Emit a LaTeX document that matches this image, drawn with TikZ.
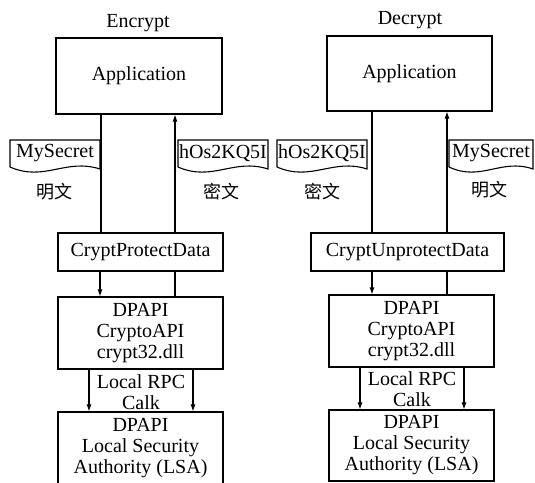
\documentclass[tikz,border=0pt]{standalone}
\usepackage{fontspec}
\setmainfont{Liberation Serif}
\newfontfamily\cjk{Noto Sans CJK SC}
\usetikzlibrary{arrows.meta}
\tikzset{
  x=1pt,y=-1pt,
  every path/.style={line width=1.1pt},
  box/.style={draw,inner sep=0pt,align=center,font=\fontsize{20}{21}\selectfont},
  txt/.style={inner sep=0pt,align=center,font=\fontsize{20}{20.5}\selectfont},
  cjklbl/.style={inner sep=0pt,font=\cjk\fontsize{18}{18}\selectfont},
  arr/.style={-{Latex[length=7pt,width=5pt]}},
}
\newcommand\mydoc[4]{%
  \draw (#2,140) -- (#3,140) -- (#3,169)
    .. controls ({#2+0.62*(#3-#2)},158) and ({#2+0.38*(#3-#2)},182) .. (#2,167) -- cycle;
  \node[txt] (#1) at ({(#2+#3)/2},153) {#4};
}
\begin{document}
\begin{tikzpicture}
\useasboundingbox (0,0) rectangle (535,482);
% ---------- Encrypt ----------
\node[txt] (t1) at (138,23) {Encrypt};
\node[box,minimum width=166pt,minimum height=76pt] (app1) at (139,76) {Application};
\node[box,minimum width=165pt,minimum height=38pt] (cpd1) at (140.5,252) {CryptProtectData};
\node[box,minimum width=165pt,minimum height=72pt] (dp1) at (140.5,333) {DPAPI\\CryptoAPI\\crypt32.dll};
\node[box,minimum width=165pt,minimum height=72pt] (lsa1) at (140.5,448) {DPAPI\\Local Security\\Authority (LSA)};
\node[txt] (rpc1) at (141,392) {Local RPC\\Calk};
\mydoc{d1a}{10}{100}{MySecret}
\mydoc{d1b}{178}{268}{hOs2KQ5I}
\node[cjklbl] (c1a) at (54,192) {明文};
\node[cjklbl] (c1b) at (221,192) {密文};
\draw (app1.south -| 101,0) -- (cpd1.north -| 101,0);
\draw[arr] (cpd1.north -| 175,0) -- (app1.south -| 175,0);
\draw[arr] (cpd1.south -| 100,0) -- (dp1.north -| 100,0);
\draw (dp1.north -| 175,0) -- (cpd1.south -| 175,0);
\draw[arr] (dp1.south -| 89,0) -- (lsa1.north -| 89,0);
\draw[arr] (dp1.south -| 193,0) -- (lsa1.north -| 193,0);
% ---------- Decrypt ----------
\node[txt] (t2) at (410,20) {Decrypt};
\node[box,minimum width=165pt,minimum height=75pt] (app2) at (409.5,73.5) {Application};
\node[box,minimum width=193pt,minimum height=38pt] (cpd2) at (407.5,252) {CryptUnprotectData};
\node[box,minimum width=165pt,minimum height=72pt] (dp2) at (411.5,331) {DPAPI\\CryptoAPI\\crypt32.dll};
\node[box,minimum width=165pt,minimum height=71pt] (lsa2) at (411.5,445.5) {DPAPI\\Local Security\\Authority (LSA)};
\node[txt] (rpc2) at (412,389) {Local RPC\\Calk};
\mydoc{d2a}{277}{367}{hOs2KQ5I}
\mydoc{d2b}{449}{533}{MySecret}
\node[cjklbl] (c2a) at (322,192) {密文};
\node[cjklbl] (c2b) at (489,190) {明文};
\draw (app2.south -| 372,0) -- (cpd2.north -| 372,0);
\draw[arr] (cpd2.north -| 447,0) -- (app2.south -| 447,0);
\draw[arr] (cpd2.south -| 372,0) -- (dp2.north -| 372,0);
\draw (dp2.north -| 447,0) -- (cpd2.south -| 447,0);
\draw[arr] (dp2.south -| 360,0) -- (lsa2.north -| 360,0);
\draw[arr] (dp2.south -| 464,0) -- (lsa2.north -| 464,0);
\end{tikzpicture}
\end{document}
